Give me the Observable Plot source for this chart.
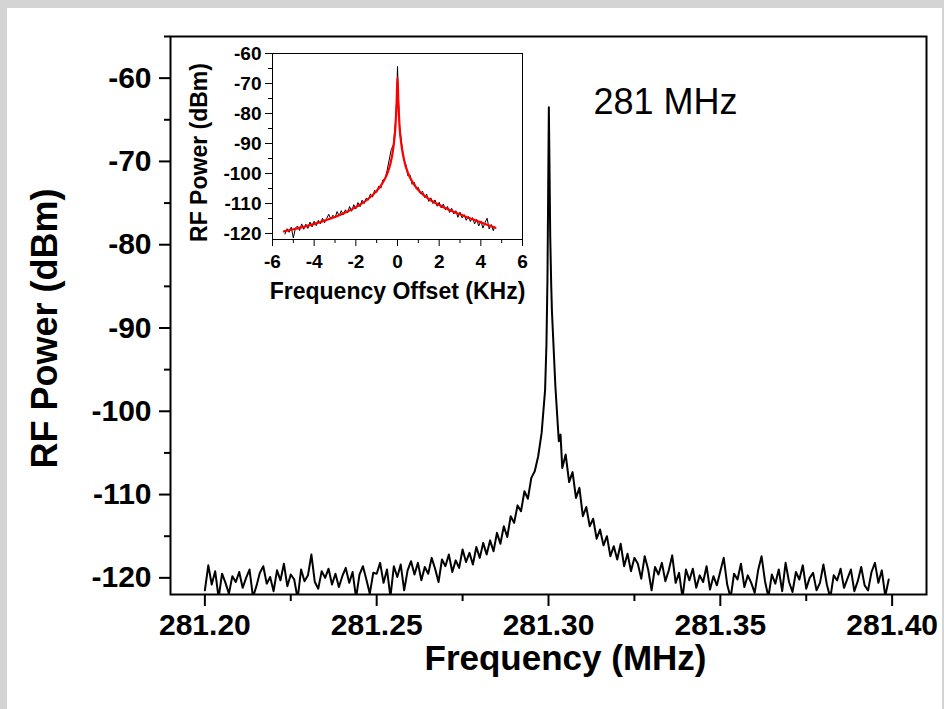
<!DOCTYPE html>
<html><head><meta charset="utf-8">
<script src="https://cdn.jsdelivr.net/npm/d3@7"></script>
<script src="https://cdn.jsdelivr.net/npm/@observablehq/plot@0.6"></script>
<style>
html,body{margin:0;padding:0;background:#d4d4d4;}
#wrap{position:relative;width:944px;height:709px;overflow:hidden;}
#panel{position:absolute;left:7px;top:8px;width:935px;height:701px;background:#fff;}
#main{position:absolute;left:0;top:0;}
#inset{position:absolute;left:170px;top:40px;}
svg{overflow:visible;}
</style></head><body>
<div id="wrap"><div id="panel"></div><div id="main"></div><div id="inset"></div></div>
<script>
// ---- main spectrum (MHz, dBm) ----
const mainFreqMHz = [
281.200,281.201,281.202,281.203,281.204,281.205,281.206,281.207,281.208,281.209,
281.210,281.211,281.212,281.213,281.214,281.215,281.216,281.217,281.218,281.219,
281.220,281.221,281.222,281.223,281.224,281.225,281.226,281.227,281.228,281.229,
281.230,281.231,281.232,281.233,281.234,281.235,281.236,281.237,281.238,281.239,
281.240,281.241,281.242,281.243,281.244,281.245,281.246,281.247,281.248,281.249,
281.250,281.251,281.252,281.253,281.254,281.255,281.256,281.257,281.258,281.259,
281.260,281.261,281.262,281.263,281.264,281.265,281.266,281.267,281.268,281.269,
281.270,281.271,281.272,281.273,281.274,281.275,281.276,281.277,281.278,281.279,
281.280,281.281,281.282,281.283,281.284,281.285,281.286,281.287,281.288,281.289,
281.290,281.291,281.292,281.293,281.294,281.295,281.296,281.297,281.298,281.299,
281.2994,281.2997,281.2999,281.3001,281.3003,281.3005,281.3008,
281.301,281.302,281.303,281.3035,281.304,281.305,281.306,281.307,281.308,281.309,
281.310,281.311,281.312,281.313,281.314,281.315,281.316,281.317,281.318,281.319,
281.320,281.321,281.322,281.323,281.324,281.325,281.326,281.327,281.328,281.329,
281.330,281.331,281.332,281.333,281.334,281.335,281.336,281.337,281.338,281.339,
281.340,281.341,281.342,281.343,281.344,281.345,281.346,281.347,281.348,281.349,
281.350,281.351,281.352,281.353,281.354,281.355,281.356,281.357,281.358,281.359,
281.360,281.361,281.362,281.363,281.364,281.365,281.366,281.367,281.368,281.369,
281.370,281.371,281.372,281.373,281.374,281.375,281.376,281.377,281.378,281.379,
281.380,281.381,281.382,281.383,281.384,281.385,281.386,281.387,281.388,281.389,
281.390,281.391,281.392,281.393,281.394,281.395,281.396,281.397,281.398,281.399
];
const mainPowerDbm = [
-121.5,-118.5,-120.8,-119.2,-122.4,-119.5,-120.6,-121.9,-119.8,-120.5,
-119.3,-121.2,-120.0,-119.0,-122.3,-121.0,-119.4,-118.6,-120.7,-119.9,
-121.6,-119.1,-120.3,-118.3,-121.0,-119.6,-120.2,-122.5,-119.0,-120.4,
-119.7,-117.2,-120.5,-121.3,-119.2,-120.0,-118.9,-120.8,-119.5,-121.1,
-119.8,-118.8,-120.6,-119.3,-122.4,-119.6,-118.6,-120.2,-121.9,-119.4,
-119.5,-118.2,-120.6,-119.0,-122.3,-118.6,-119.9,-118.4,-121.5,-119.1,
-118.0,-119.6,-118.2,-120.3,-118.7,-119.5,-117.6,-118.9,-120.5,-117.8,
-118.6,-117.2,-119.3,-117.9,-118.8,-116.6,-118.1,-117.0,-118.4,-116.3,
-117.6,-115.8,-117.2,-115.5,-116.8,-114.6,-115.9,-113.8,-115.1,-112.6,
-113.4,-111.3,-112.0,-109.6,-110.5,-108.0,-107.2,-105.4,-102.6,-97.5,
-92.0,-84.0,-74.0,-63.5,-71.0,-79.0,-85.0,
-88.0,-97.0,-103.6,-102.8,-106.8,-105.2,-108.5,-107.3,-110.4,-109.2,
-112.6,-111.5,-113.8,-112.9,-115.3,-114.2,-116.1,-115.0,-117.4,-116.2,
-117.8,-115.9,-118.6,-117.1,-119.2,-117.6,-118.3,-120.1,-117.4,-119.0,
-121.5,-118.7,-119.6,-118.2,-120.4,-119.1,-117.3,-120.6,-119.4,-122.4,
-119.0,-120.3,-118.9,-121.2,-119.7,-120.5,-118.6,-121.4,-119.8,-120.9,
-119.2,-117.6,-120.8,-122.4,-119.5,-120.2,-118.3,-121.1,-119.7,-120.6,
-121.8,-119.1,-117.4,-120.4,-122.3,-119.6,-120.7,-119.0,-121.6,-118.2,
-120.5,-121.7,-119.3,-120.2,-118.5,-121.3,-120.0,-119.4,-121.5,-120.6,
-118.4,-120.8,-122.4,-119.7,-120.3,-118.9,-121.2,-120.1,-119.0,-121.6,
-120.4,-118.7,-120.9,-121.5,-119.3,-118.2,-120.6,-119.1,-122.2,-120.2
];
const mainXMajor = [281.20, 281.25, 281.30, 281.35, 281.40];
const mainXMinor = [281.225, 281.275, 281.325, 281.375];
const mainYMajor = [-120, -110, -100, -90, -80, -70, -60];
const mainYMinor = [-115, -105, -95, -85, -75, -65, -55];

// ---- inset: measured trace and fit (kHz offset, dBm) ----
const insetKHz = [
-5.4,-5.3,-5.2,-5.1,-5.0,-4.9,-4.8,-4.7,-4.6,-4.5,
-4.4,-4.3,-4.2,-4.1,-4.0,-3.9,-3.8,-3.7,-3.6,-3.5,
-3.4,-3.3,-3.2,-3.1,-3.0,-2.9,-2.8,-2.7,-2.6,-2.5,
-2.4,-2.3,-2.2,-2.1,-2.0,-1.9,-1.8,-1.7,-1.6,-1.5,
-1.4,-1.3,-1.2,-1.1,-1.0,-0.9,-0.8,-0.7,-0.6,-0.5,
-0.4,-0.3,-0.2,-0.1,-0.05,0.0,0.05,0.1,0.2,0.3,
0.4,0.5,0.6,0.7,0.8,0.9,1.0,1.1,1.2,1.3,
1.4,1.5,1.6,1.7,1.8,1.9,2.0,2.1,2.2,2.3,
2.4,2.5,2.6,2.7,2.8,2.9,3.0,3.1,3.2,3.3,
3.4,3.5,3.6,3.7,3.8,3.9,4.0,4.1,4.2,4.3,
4.4,4.5,4.6,4.65
];
const insetDbm = [
-120.2,-118.4,-119.6,-117.9,-121.5,-118.2,-117.5,-119.0,-116.8,-118.6,
-116.9,-118.3,-116.2,-117.8,-115.9,-117.4,-115.6,-116.8,-114.9,-116.4,
-115.0,-113.6,-115.2,-113.9,-114.8,-112.7,-114.1,-112.4,-113.8,-112.1,
-113.2,-111.0,-112.6,-110.4,-111.8,-109.7,-111.1,-108.9,-110.0,-108.2,
-108.9,-106.8,-107.9,-105.6,-106.3,-104.2,-104.9,-102.1,-101.8,-99.0,
-95.5,-92.0,-90.5,-83.0,-77.0,-64.3,-76.0,-84.0,-90.0,-95.5,
-97.0,-100.8,-100.5,-103.6,-102.9,-105.2,-104.6,-106.8,-105.9,-108.0,
-106.9,-109.3,-108.1,-110.0,-108.8,-110.9,-109.6,-111.5,-110.2,-112.1,
-111.0,-113.0,-111.6,-113.5,-112.4,-114.6,-112.9,-114.8,-113.7,-115.6,
-114.3,-116.0,-114.7,-116.8,-115.3,-117.5,-115.8,-118.2,-116.4,-114.9,
-118.5,-117.0,-119.1,-117.8
];
const fitKHz = [-5.45,-5.0,-4.5,-4.0,-3.5,-3.0,-2.5,-2.0,-1.5,-1.0,-0.7,-0.5,-0.35,-0.2,-0.1,-0.04,0.0,0.04,0.1,0.2,0.35,0.5,0.75,1.0,1.5,2.0,2.5,3.0,3.5,4.0,4.5,4.7];
const fitDbm = [-119.3,-118.6,-117.8,-116.8,-115.7,-114.5,-113.0,-111.2,-109.0,-105.8,-103.0,-100.2,-97.0,-91.5,-84.5,-76.0,-68.0,-76.0,-84.5,-91.0,-96.5,-99.8,-103.2,-105.5,-108.5,-110.5,-112.2,-113.6,-115.0,-116.3,-117.6,-118.1];
const insetXMajor = [-6, -4, -2, 0, 2, 4, 6];
const insetXMinor = [-5, -3, -1, 1, 3, 5];
const insetYMajor = [-120, -110, -100, -90, -80, -70, -60];
const insetYMinor = [-115, -105, -95, -85, -75, -65];

const font = "'Liberation Sans', Arial, Helvetica, sans-serif";
const mainData = mainFreqMHz.map((f, i) => ({f, p: mainPowerDbm[i]}));
const insetData = insetKHz.map((k, i) => ({k, p: insetDbm[i]}));
const fitData = fitKHz.map((k, i) => ({k, p: fitDbm[i]}));
const blank = () => "";

const main = Plot.plot({
  width: 944, height: 709,
  marginLeft: 170, marginRight: 18, marginTop: 36, marginBottom: 115,
  x: {domain: [281.19, 281.41]},
  y: {domain: [-122, -55]},
  style: {background: "transparent", fontFamily: font, color: "black", overflow: "visible"},
  marks: [
    Plot.line(mainData, {x: "f", y: "p", stroke: "black", strokeWidth: 2, clip: true}),
    Plot.axisY({ticks: mainYMajor, tickSize: 11, tickPadding: 8, fontSize: 30, fontWeight: "bold", tickFormat: d => String(d), label: null, strokeWidth: 2}),
    Plot.axisY({ticks: mainYMinor, tickSize: 6, tickFormat: blank, label: null, strokeWidth: 2}),
    Plot.axisX({ticks: mainXMajor, tickSize: 12, tickPadding: 7, fontSize: 30, fontWeight: "bold", tickFormat: d => d.toFixed(2), label: null, strokeWidth: 2}),
    Plot.axisX({ticks: mainXMinor, tickSize: 7, tickFormat: blank, label: null, strokeWidth: 2}),
    Plot.frame({stroke: "black", strokeWidth: 2}),
    Plot.text(["RF Power (dBm)"], {text: d => d, frameAnchor: "left", textAnchor: "middle", lineAnchor: "middle", rotate: -90, dx: -125, dy: 13, fontSize: 36, fontWeight: "bold"}),
    Plot.text(["Frequency (MHz)"], {text: d => d, frameAnchor: "bottom", textAnchor: "middle", lineAnchor: "middle", dx: 17, dy: 64, fontSize: 35, fontWeight: "bold"}),
    Plot.text(["281 MHz"], {text: d => d, frameAnchor: "top-left", textAnchor: "start", lineAnchor: "middle", dx: 423, dy: 66, fontSize: 36, fontWeight: "normal"})
  ]
});
document.getElementById("main").appendChild(main);

const inset = Plot.plot({
  width: 360, height: 270,
  marginLeft: 102, marginRight: 8, marginTop: 13, marginBottom: 71,
  x: {domain: [-6, 6]},
  y: {domain: [-122, -60]},
  style: {background: "transparent", fontFamily: font, color: "black", overflow: "visible"},
  marks: [
    Plot.line(insetData, {x: "k", y: "p", stroke: "black", strokeWidth: 1, clip: true}),
    Plot.line(fitData, {x: "k", y: "p", stroke: "#ff0000", strokeWidth: 2.2, curve: "monotone-x"}),
    Plot.axisY({ticks: insetYMajor, tickSize: 7, tickPadding: 4, fontSize: 19, fontWeight: "bold", tickFormat: d => String(d), label: null}),
    Plot.axisY({ticks: insetYMinor, tickSize: 4, tickFormat: blank, label: null}),
    Plot.axisX({ticks: insetXMajor, tickSize: 7, tickPadding: 8, fontSize: 19, fontWeight: "bold", tickFormat: d => String(d), label: null}),
    Plot.axisX({ticks: insetXMinor, tickSize: 4, tickFormat: blank, label: null}),
    Plot.frame({stroke: "black", strokeWidth: 1}),
    Plot.text(["RF Power (dBm)"], {text: d => d, frameAnchor: "left", textAnchor: "middle", lineAnchor: "middle", rotate: -90, dx: -73, dy: 6, fontSize: 23, fontWeight: "bold"}),
    Plot.text(["Frequency Offset (KHz)"], {text: d => d, frameAnchor: "bottom", textAnchor: "middle", lineAnchor: "middle", dy: 52, fontSize: 23, fontWeight: "bold"})
  ]
});
document.getElementById("inset").appendChild(inset);
</script>
</body></html>
